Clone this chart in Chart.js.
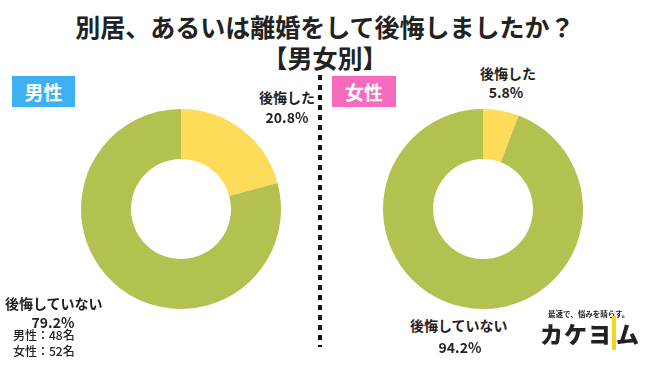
<!DOCTYPE html>
<html><head><meta charset="utf-8">
<script src="https://cdn.jsdelivr.net/npm/chart.js@4"></script>
<style>
html,body{margin:0;padding:0;background:#fff;}
#wrap{position:relative;width:650px;height:365px;overflow:hidden;font-family:"Noto Sans CJK JP","Noto Sans",sans-serif;color:#222;}
.t{position:absolute;white-space:nowrap;font-weight:bold;line-height:1;}
canvas{position:absolute;}
.box{position:absolute;color:#fff;font-weight:bold;font-size:19px;display:flex;align-items:center;justify-content:center;}
#dots{position:absolute;left:318px;top:75px;width:4px;height:272px;background:repeating-linear-gradient(to bottom,#111 0,#111 5px,transparent 5px,transparent 10px);}
</style></head><body>
<div id="wrap">
  <div class="t" id="title" style="left:0;width:650px;text-align:center;top:14px;font-size:25px;"></div>
  <div class="t" id="sub" style="left:0;width:650px;text-align:center;top:45px;font-size:25px;"></div>
  <div class="box" id="boxM" style="left:12px;top:76px;width:63px;height:31px;background:#3db1f4;"></div>
  <div class="box" id="boxF" style="left:332px;top:76px;width:64px;height:31px;background:#f76bbd;"></div>
  <div id="dots"></div>
  <canvas id="cM" width="200" height="200" style="left:81px;top:109px;"></canvas>
  <canvas id="cF" width="200" height="200" style="left:383px;top:109px;"></canvas>
  <div class="t" id="mYesL" style="left:259px;top:90px;font-size:14px;"></div>
  <div class="t" id="mYesV" style="left:262px;top:110px;width:50px;text-align:center;font-size:14px;"></div>
  <div class="t" id="mNoL" style="left:5px;top:296px;font-size:14px;"></div>
  <div class="t" id="mNoV" style="left:28px;top:315px;width:50px;text-align:center;font-size:14px;"></div>
  <div class="t" id="n1" style="left:13px;top:329px;font-size:12px;font-weight:500;"></div>
  <div class="t" id="n2" style="left:13px;top:345px;font-size:12px;font-weight:500;"></div>
  <div class="t" id="fYesL" style="left:480px;top:66px;font-size:14px;"></div>
  <div class="t" id="fYesV" style="left:481px;top:85px;width:50px;text-align:center;font-size:14px;"></div>
  <div class="t" id="fNoL" style="left:410px;top:318px;font-size:14px;"></div>
  <div class="t" id="fNoV" style="left:435px;top:340px;width:50px;text-align:center;font-size:14px;"></div>
  <div class="t" style="left:548px;top:310px;font-size:7.5px;">最速で、悩みを晴らす。</div>
  <div class="t" style="left:540px;top:322px;font-size:23px;letter-spacing:1px;font-weight:900;">カケ<span style="border-right:4px solid #f5d21c;">ヨ</span>ム</div>
</div>
<script>
const titleText = "別居、あるいは離婚をして後悔しましたか？";
const subText = "【男女別】";
const groups = ["男性", "女性"];
const categories = ["後悔した", "後悔していない"];
const maleValues = [20.8, 79.2];
const femaleValues = [5.8, 94.2];
const sampleNotes = ["男性：48名", "女性：52名"];
const colors = ["#fedc5a", "#b2c14f"];

document.getElementById('title').textContent = titleText;
document.getElementById('sub').textContent = subText;
document.getElementById('boxM').textContent = groups[0];
document.getElementById('boxF').textContent = groups[1];
document.getElementById('mYesL').textContent = categories[0];
document.getElementById('mYesV').textContent = maleValues[0].toFixed(1) + "%";
document.getElementById('mNoL').textContent = categories[1];
document.getElementById('mNoV').textContent = maleValues[1].toFixed(1) + "%";
document.getElementById('fYesL').textContent = categories[0];
document.getElementById('fYesV').textContent = femaleValues[0].toFixed(1) + "%";
document.getElementById('fNoL').textContent = categories[1];
document.getElementById('fNoV').textContent = femaleValues[1].toFixed(1) + "%";
document.getElementById('n1').textContent = sampleNotes[0];
document.getElementById('n2').textContent = sampleNotes[1];

function donut(id, vals){
  new Chart(document.getElementById(id), {
    type: 'doughnut',
    data: { labels: categories, datasets: [{ data: vals, backgroundColor: colors, borderWidth: 0 }] },
    options: {
      responsive: false, animation: false, devicePixelRatio: 1,
      cutout: '50%',
      layout: { padding: 0 },
      plugins: { legend: { display: false }, tooltip: { enabled: false } }
    }
  });
}
donut('cM', maleValues);
donut('cF', femaleValues);
</script>
</body></html>
